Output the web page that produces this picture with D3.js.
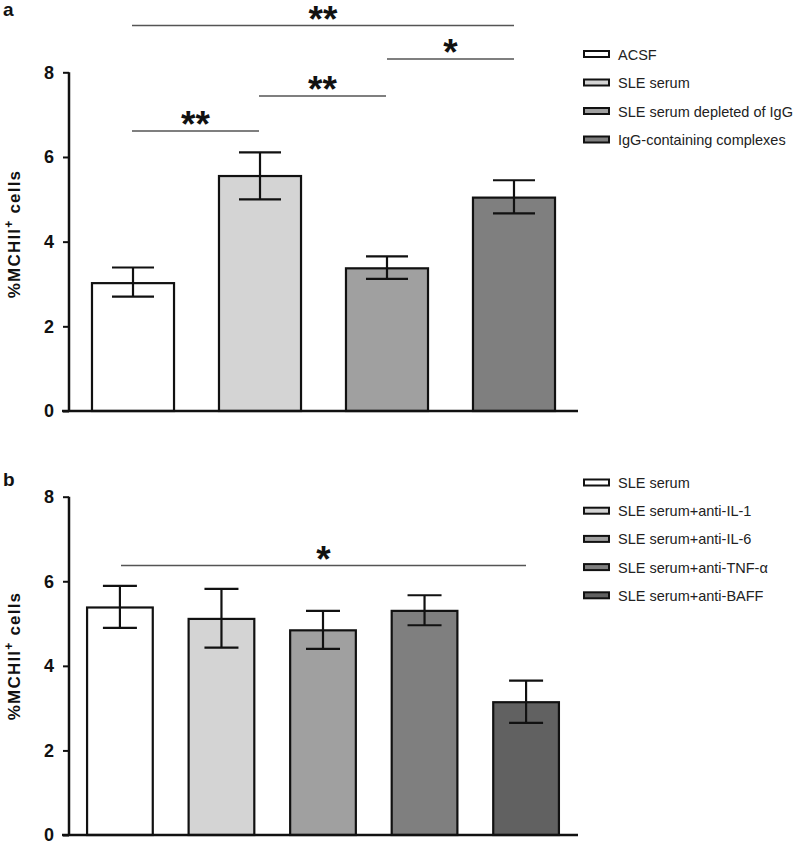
<!DOCTYPE html>
<html><head><meta charset="utf-8">
<script src="https://cdn.jsdelivr.net/npm/d3@7"></script>
<style>html,body{margin:0;padding:0;background:#fff;overflow:hidden;width:797px;height:844px}svg{display:block;overflow:visible}</style>
</head><body><svg id="c" width="797" height="844"></svg>
<script>
// ---- data ----
const catsA = ["ACSF","SLE serum","SLE serum depleted of IgG","IgG-containing complexes"];
const meanA = [3.02, 5.55, 3.37, 5.04];
const errHiA = [3.39, 6.11, 3.65, 5.45];
const errLoA = [2.70, 5.00, 3.12, 4.67];
const fillA = ["#ffffff","#d4d4d4","#a0a0a0","#7f7f7f"];

const catsB = ["SLE serum","SLE serum+anti-IL-1","SLE serum+anti-IL-6","SLE serum+anti-TNF-\u03b1","SLE serum+anti-BAFF"];
const meanB = [5.38, 5.11, 4.84, 5.30, 3.14];
const errHiB = [5.89, 5.82, 5.30, 5.67, 3.65];
const errLoB = [4.90, 4.43, 4.40, 4.96, 2.65];
const fillB = ["#ffffff","#d4d4d4","#a0a0a0","#7f7f7f","#616161"];
const yTicks = [0,2,4,6,8];

const FONT = "Liberation Sans, Arial, Helvetica, sans-serif";
const svg = d3.select("#c");

function panel(opts){
  const g = svg.append("g");
  const y = d3.scaleLinear().domain([0,8]).range([opts.y0, opts.y8]);
  const x = d3.scaleBand().domain(opts.cats).range([opts.xStart, opts.xEnd]).paddingInner(opts.pin).paddingOuter(opts.pout);
  // bars
  g.selectAll("rect.bar").data(opts.cats).join("rect")
    .attr("x", d=>x(d)).attr("width", x.bandwidth())
    .attr("y", (d,i)=>y(opts.mean[i])).attr("height", (d,i)=>y(0)-y(opts.mean[i]))
    .attr("fill", (d,i)=>opts.fill[i]).attr("stroke","#111").attr("stroke-width",2.2);
  // error bars
  const cap = opts.cap;
  opts.cats.forEach((c,i)=>{
    const cx = x(c)+x.bandwidth()/2;
    g.append("line").attr("x1",cx).attr("x2",cx).attr("y1",y(opts.hi[i])).attr("y2",y(opts.lo[i])).attr("stroke","#111").attr("stroke-width",2.2);
    [opts.hi[i],opts.lo[i]].forEach(v=>g.append("line").attr("x1",cx-cap).attr("x2",cx+cap).attr("y1",y(v)).attr("y2",y(v)).attr("stroke","#111").attr("stroke-width",2.2));
  });
  // axes
  const ax = g.append("g").attr("transform",`translate(${opts.axisX},0)`)
    .call(d3.axisLeft(y).tickValues(yTicks).tickSize(6).tickPadding(9));
  ax.select(".domain").attr("stroke","#111").attr("stroke-width",2.5).attr("d",`M0,${y(0)}V${y(8)}`);
  ax.selectAll(".tick line").attr("stroke","#111").attr("stroke-width",2);
  ax.selectAll(".tick text").attr("font-family",FONT).attr("font-weight","bold").attr("font-size",18).attr("fill","#111");
  g.append("line").attr("x1",opts.axisX-7).attr("x2",opts.xAxisEnd).attr("y1",y(0)).attr("y2",y(0)).attr("stroke","#111").attr("stroke-width",2.5);
  // y label
  const lt = g.append("text").attr("transform",`translate(${opts.labX},${opts.labY}) rotate(-90)`)
    .attr("text-anchor","middle").attr("font-family",FONT).attr("font-weight","bold").attr("font-size",17).attr("letter-spacing",1.2).attr("fill","#111");
  lt.append("tspan").text("%MCHII");
  lt.append("tspan").attr("dy",-7).attr("font-size",12).text("+");
  lt.append("tspan").attr("dy",7).text(" cells");
  // panel letter
  g.append("text").attr("x",3).attr("y",opts.letterY).attr("font-family",FONT).attr("font-weight","bold").attr("font-size",19).attr("fill","#111").text(opts.letter);
  // significance
  opts.sig.forEach(s=>{
    const yy = s.y;
    g.append("line").attr("x1",s.x1).attr("x2",s.x2).attr("y1",yy).attr("y2",yy).attr("stroke","#555").attr("stroke-width",1.3);
    g.append("text").attr("x",(s.x1+s.x2)/2).attr("y",yy+6).attr("text-anchor","middle").attr("font-family",FONT).attr("font-weight","bold").attr("font-size",37).attr("fill","#111").text(s.label);
  });
  // legend
  const leg = g.append("g");
  opts.cats.forEach((c,i)=>{
    const ly = opts.legY + i*opts.legStep;
    leg.append("rect").attr("x",584).attr("y",ly-3).attr("width",25).attr("height",6).attr("fill",opts.fill[i]).attr("stroke","#111").attr("stroke-width",2);
    leg.append("text").attr("x",618).attr("y",ly+5.5).attr("font-family",FONT).attr("font-size",14.5).attr("fill","#222").text(c);
  });
}

panel({cats:catsA, mean:meanA, hi:errHiA, lo:errLoA, fill:fillA,
  y0:411, y8:72.3, xStart:69, xEnd:578, pin:0.354, pout:0.181, axisX:69, xAxisEnd:578, cap:21,
  labX:20, labY:234, letter:"a", letterY:16,
  sig:[{label:"**",x1:132,x2:259,y:131},{label:"**",x1:259,x2:386,y:96},{label:"*",x1:387,x2:514,y:59},{label:"**",x1:132,x2:514,y:25.5}],
  legY:54, legStep:28.5});

panel({cats:catsB, mean:meanB, hi:errHiB, lo:errLoB, fill:fillB,
  y0:835, y8:496.7, xStart:69, xEnd:577, pin:0.353, pout:0.178, axisX:69, xAxisEnd:578, cap:17,
  labX:20, labY:656, letter:"b", letterY:486,
  sig:[{label:"*",x1:121,x2:526,y:565.5}],
  legY:482.5, legStep:28.2});
</script></body></html>
